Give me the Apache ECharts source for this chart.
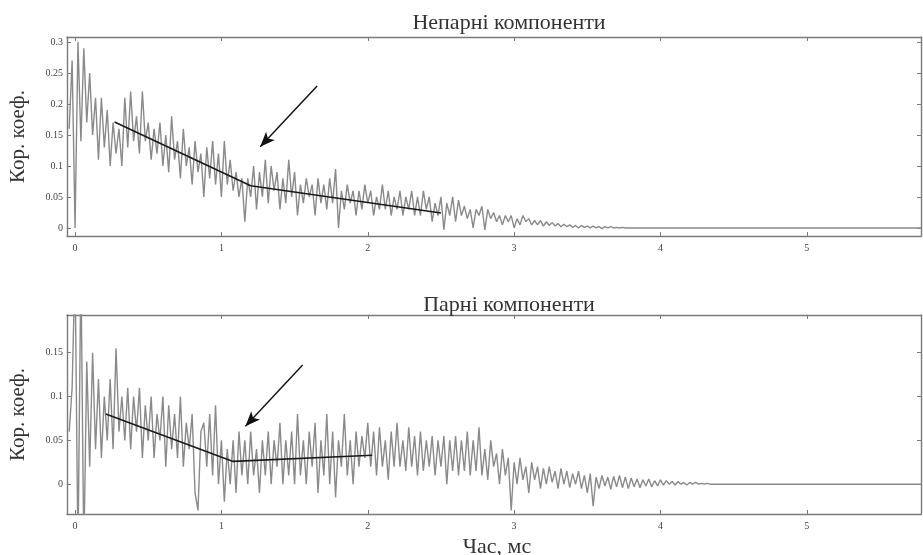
<!DOCTYPE html>
<html><head><meta charset="utf-8">
<script src="https://cdn.jsdelivr.net/npm/echarts@6/dist/echarts.min.js"></script>
<style>html,body{margin:0;padding:0;background:#fff}#c{width:923px;height:555px}</style>
</head><body><div id="c"></div>
<script>
// sampling of the traces (ms)
const sampleStart = -0.04;
const sampleStep = 0.02;
const traceEnd = 5.78;
// "Непарні компоненти" (odd components)
const oddValues = [
0.16,0.27,0.00,0.30,0.14,0.29,0.17,0.25,0.15,0.21,0.11,0.21,0.13,0.19,0.10,0.17,0.12,0.16,0.10,0.21,0.13,
0.22,0.14,0.18,0.12,0.22,0.14,0.17,0.11,0.16,0.12,0.17,0.10,0.15,0.09,0.18,0.11,0.14,0.08,0.16,0.10,
0.13,0.07,0.14,0.09,0.12,0.05,0.13,0.08,0.14,0.07,0.12,0.05,0.14,0.07,0.11,0.06,0.09,0.05,0.08,0.01,
0.08,0.05,0.10,0.03,0.09,0.05,0.11,0.04,0.10,0.06,0.09,0.03,0.08,0.04,0.11,0.05,0.09,0.02,0.07,0.04,
0.08,0.05,0.07,0.02,0.08,0.04,0.07,0.03,0.08,0.04,0.095,0.00,0.06,0.03,0.07,0.04,0.06,0.02,0.06,0.03,
0.07,0.04,0.06,0.02,0.05,0.03,0.07,0.03,0.06,0.02,0.05,0.03,0.06,0.02,0.05,0.03,0.06,0.02,0.05,0.02,
0.06,0.03,0.05,0.01,0.04,0.02,0.05,-0.003,0.04,0.02,0.05,0.01,0.045,0.02,0.035,0.015,0.03,0.00,0.03,0.02,
0.035,-0.003,0.03,0.015,0.025,0.01,0.02,0.005,0.02,0.01,0.02,0.00,0.015,0.005,0.02,0.01,0.015,0.005,0.012,0.005,
0.012,0.003,0.01,0.004,0.009,0.003,0.007,0.002,0.006,0.002,0.005,0.001,0.004,0.0,0.004,0.001,0.003,0.0,0.003,0.0,
0.002,-0.001,0.002,0.0,0.002,0.0,0.001,0.0,0.001,0.0,0.0
];
// "Парні компоненти" (even components)
const evenValues = [
0.06,0.11,0.25,-0.08,0.25,-0.08,0.14,0.02,0.15,0.04,0.12,0.03,0.10,0.05,0.12,0.04,0.155,0.06,0.10,0.05,0.11,0.04,
0.10,0.06,0.11,0.03,0.09,0.05,0.10,0.03,0.08,0.05,0.10,0.02,0.09,0.04,0.08,0.03,0.10,0.02,0.07,0.04,
0.08,-0.01,-0.03,0.06,0.07,0.02,0.08,0.01,0.09,0.00,0.05,-0.02,0.04,0.00,0.05,-0.01,0.06,0.01,0.05,0.00,
0.06,0.01,0.04,-0.01,0.05,0.01,0.06,0.00,0.05,0.02,0.07,0.00,0.05,0.01,0.06,0.00,0.08,0.01,0.05,0.00,
0.06,0.02,0.07,-0.01,0.05,0.01,0.08,0.00,0.06,-0.015,0.05,0.02,0.08,0.01,0.05,0.00,0.06,0.02,0.055,0.03,
0.07,0.02,0.06,0.01,0.065,0.02,0.05,0.005,0.06,0.02,0.07,0.02,0.05,0.015,0.065,0.02,0.055,0.01,0.06,0.015,
0.05,0.02,0.055,0.01,0.05,0.02,0.055,0.0,0.05,0.015,0.055,0.01,0.05,0.015,0.06,0.01,0.05,0.015,0.065,0.01,
0.04,0.005,0.05,0.02,0.035,0.0,0.04,0.01,0.03,-0.03,0.025,0.0,0.03,0.005,0.02,-0.01,0.025,0.005,0.02,-0.005,
0.018,0.0,0.02,0.002,0.015,-0.005,0.018,0.0,0.015,-0.004,0.012,0.0,0.015,-0.005,0.01,-0.01,0.012,-0.025,0.008,-0.005,
0.01,-0.002,0.008,-0.006,0.009,-0.003,0.01,-0.004,0.008,-0.005,0.007,-0.003,0.006,-0.004,0.005,-0.002,0.006,-0.003,0.004,-0.002,
0.005,-0.001,0.004,0.0,0.003,-0.001,0.003,0.0,0.002,-0.001,0.002,0.0,0.002,0.0,0.001,0.0,0.001,0.0,0.0
];
// fitted trend segments (time, value)
const oddTrendT = [0.27, 1.2, 2.5];
const oddTrendV = [0.171, 0.068, 0.024];
const evenTrendT = [0.21, 1.08, 2.03];
const evenTrendV = [0.080, 0.026, 0.033];
// arrows: [tail time, tail value, head time, head value]
const oddArrow = [1.654, 0.229, 1.265, 0.131];
const evenArrow = [1.555, 0.136, 1.164, 0.066];
// ticks
const xTicks = [0, 1, 2, 3, 4, 5];
const oddYTicks = [0, 0.05, 0.1, 0.15, 0.2, 0.25, 0.3];
const evenYTicks = [0, 0.05, 0.1, 0.15];
const titles = ['Непарні компоненти', 'Парні компоненти'];
const yName = 'Кор. коеф.';
const xName = 'Час, мс';

function trace(vals) {
  const d = vals.map((v, i) => [+(sampleStart + i * sampleStep).toFixed(4), v]);
  d.push([traceEnd, 0]);
  return d;
}
function pairs(t, v) { return t.map((x, i) => [x, v[i]]); }

const serif = '"Liberation Serif", "DejaVu Serif", serif';
const frame = '#7a7a7a';
const xMin = -0.055, xMax = 5.78;

function xAx(gi, pos, labels) {
  return {
    type: 'value', gridIndex: gi, position: pos, min: xMin, max: xMax,
    axisLine: { show: true, onZero: false, lineStyle: { color: frame, width: 1.4 } },
    axisTick: { show: true, inside: true, length: 4, customValues: xTicks, lineStyle: { color: frame } },
    axisLabel: { show: labels, customValues: xTicks, margin: 7, fontFamily: serif, fontSize: 10, color: '#444' },
    splitLine: { show: false }
  };
}
function yAx(gi, pos, labels, min, max, ticks) {
  return {
    type: 'value', gridIndex: gi, position: pos, min: min, max: max,
    axisLine: { show: true, onZero: false, lineStyle: { color: frame, width: 1.4 } },
    axisTick: { show: true, inside: true, length: 4, customValues: ticks, lineStyle: { color: frame } },
    axisLabel: { show: labels, customValues: ticks, margin: 4, fontFamily: serif, fontSize: 10, color: '#444' },
    splitLine: { show: false },
    name: labels ? yName : '', nameLocation: 'middle', nameGap: 38,
    nameTextStyle: { fontFamily: serif, fontSize: 21, color: '#333' }
  };
}
function arrowLine(a) {
  return {
    silent: true, symbol: ['none', 'arrow'], symbolSize: [9, 15], animation: false,
    label: { show: false },
    lineStyle: { color: '#111', width: 1.4, type: 'solid' },
    data: [[{ coord: [a[0], a[1]] }, { coord: [a[2], a[3]] }]]
  };
}
const tStyle = { fontFamily: serif, fontSize: 22, fontWeight: 'normal', color: '#333' };

const chart = echarts.init(document.getElementById('c'), null, { renderer: 'canvas' });
chart.setOption({
  animation: false,
  backgroundColor: '#fff',
  title: [
    { text: titles[0], left: 504, top: 7, textAlign: 'center', textStyle: tStyle },
    { text: titles[1], left: 504, top: 289, textAlign: 'center', textStyle: tStyle },
    { text: xName, left: 497, top: 536, textAlign: 'center', padding: 0, textStyle: tStyle }
  ],
  grid: [
    { left: 67, right: 2, top: 37, bottom: 319 },
    { left: 67, right: 2, top: 315, bottom: 41 }
  ],
  xAxis: [
    xAx(0, 'bottom', true),
    xAx(0, 'top', false),
    xAx(1, 'bottom', true),
    xAx(1, 'top', false)
  ],
  yAxis: [
    yAx(0, 'left', true, -0.013, 0.308, oddYTicks),
    yAx(0, 'right', false, -0.013, 0.308, oddYTicks),
    yAx(1, 'left', true, -0.034, 0.193, evenYTicks),
    yAx(1, 'right', false, -0.034, 0.193, evenYTicks)
  ],
  series: [
    { type: 'line', xAxisIndex: 0, yAxisIndex: 0, data: trace(oddValues), showSymbol: false, sampling: 'none', clip: true,
      lineStyle: { color: '#8a8a8a', width: 1.4 }, markLine: arrowLine(oddArrow) },
    { type: 'line', xAxisIndex: 0, yAxisIndex: 0, data: pairs(oddTrendT, oddTrendV), showSymbol: false,
      lineStyle: { color: '#1a1a1a', width: 1.6 } },
    { type: 'line', xAxisIndex: 2, yAxisIndex: 2, data: trace(evenValues), showSymbol: false, sampling: 'none', clip: true,
      lineStyle: { color: '#8a8a8a', width: 1.4 }, markLine: arrowLine(evenArrow) },
    { type: 'line', xAxisIndex: 2, yAxisIndex: 2, data: pairs(evenTrendT, evenTrendV), showSymbol: false,
      lineStyle: { color: '#1a1a1a', width: 1.6 } }
  ]
});
</script>
</body></html>
